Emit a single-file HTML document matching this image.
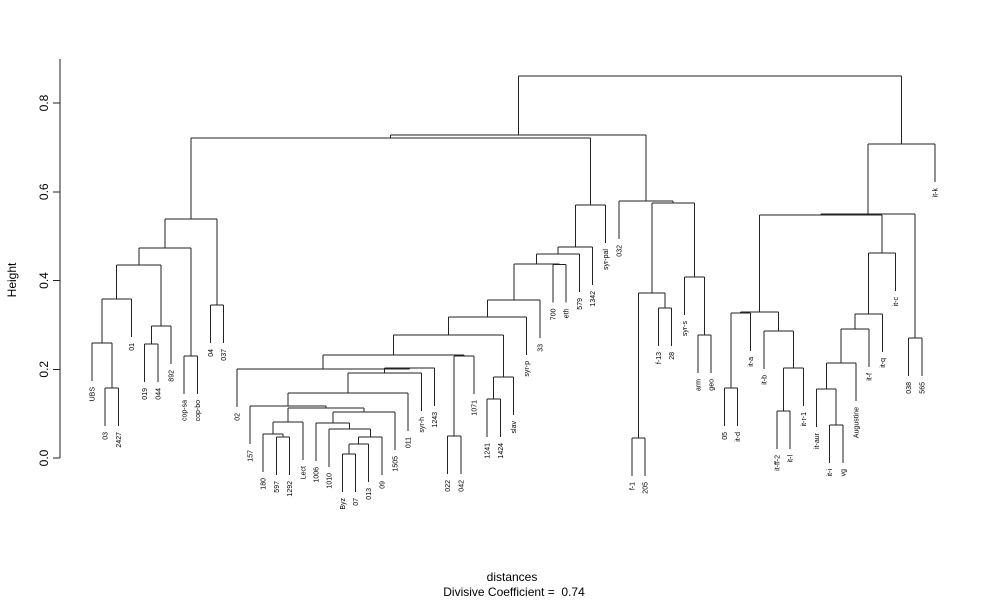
<!DOCTYPE html>
<html><head><meta charset="utf-8"><style>
html,body{margin:0;padding:0;background:#fff;}
svg{display:block;font-family:"Liberation Sans",sans-serif;}
</style></head><body>
<svg id="s" width="1000" height="600" viewBox="0 0 1000 600" xmlns="http://www.w3.org/2000/svg">
<g stroke="#222" stroke-width="1" fill="none" shape-rendering="crispEdges">
<line x1="60" y1="59" x2="60" y2="458"/>
<line x1="53" y1="458" x2="60" y2="458"/>
<line x1="53" y1="369.25" x2="60" y2="369.25"/>
<line x1="53" y1="280.5" x2="60" y2="280.5"/>
<line x1="53" y1="191.75" x2="60" y2="191.75"/>
<line x1="53" y1="103" x2="60" y2="103"/>
</g>
<g font-size="12" fill="#000" text-anchor="middle">
<text transform="translate(44,458) rotate(-90)" dy="4">0.0</text>
<text transform="translate(44,369.25) rotate(-90)" dy="4">0.2</text>
<text transform="translate(44,280.5) rotate(-90)" dy="4">0.4</text>
<text transform="translate(44,191.75) rotate(-90)" dy="4">0.6</text>
<text transform="translate(44,103) rotate(-90)" dy="4">0.8</text>
<text transform="translate(12,280) rotate(-90)" dy="4">Height</text>
<text x="512" y="581">distances</text>
<text x="514" y="596">Divisive Coefficient =&#160; 0.74</text>
</g>
<g id="tree" stroke="#222" stroke-width="1" fill="none" shape-rendering="crispEdges"></g>
<g id="labs" font-size="7" fill="#000" text-anchor="end"></g>
</svg>
<script>
var names=["UBS","03","2427","01","019","044","892","cop-sa","cop-bo","04","037","02","157","180","597","1292","Lect","1006","1010","Byz","07","013","09","1505","011","syr-h","1243","022","042","1071","1241","1424","slav","syr-p","33","700","eth","579","1342","syr-pal","032","f-1","205","f-13","28","syr-s","arm","geo","05","it-d","it-a","it-b","it-ff-2","it-l","it-r-1","it-aur","it-i","vg","Augustine","it-f","it-q","it-c","038","565","it-k"];
var X0=92,DX=(935-92)/64,HANG=38;
var tree=document.getElementById('tree'),labs=document.getElementById('labs');
var NS="http://www.w3.org/2000/svg";
function L(n){var i=names.indexOf(n);return {leaf:true,name:n,x:X0+i*DX};}
function line(x1,y1,x2,y2){var l=document.createElementNS(NS,'line');l.setAttribute('x1',x1);l.setAttribute('y1',y1);l.setAttribute('x2',x2);l.setAttribute('y2',y2);tree.appendChild(l);}
function m(a,b,y){
 if(typeof a=='string')a=L(a); if(typeof b=='string')b=L(b);
 [a,b].forEach(function(c){
  var bot=c.leaf?y+HANG:c.y;
  line(c.x,y,c.x,bot);
  if(c.leaf){var t=document.createElementNS(NS,'text');t.setAttribute('transform','translate('+(c.x+2.5)+','+(bot+6)+') rotate(-90)');t.textContent=c.name;labs.appendChild(t);}
 });
 line(a.x,y,b.x,y);
 return {x:(a.x+b.x)/2,y:y};
}
var a=m("UBS",m("03","2427",388),343);
a=m(a,"01",299);
var b=m(m("019","044",344),"892",326);
var c=m(a,b,265);
c=m(c,m("cop-sa","cop-bo",356),248);
c=m(c,m("04","037",305),219);
var p=m("180",m("597","1292",437),434);
p=m(p,"Lect",422);
var q=m(m(m("Byz","07",454),"013",444),"09",437);
q=m("1010",q,429);
q=m("1006",q,423);
q=m(q,"1505",412);
var r=m(p,q,408);
r=m("157",r,406);
r=m(r,"011",393);
r=m(r,"syr-h",373);
r=m(r,"1243",368);
r=m("02",r,369);
var s=m(m("022","042",436),"1071",356);
r=m(r,s,355);
r=m(r,m(m("1241","1424",399),"slav",377),335);
r=m(r,"syr-p",317);
r=m(r,"33",300);
r=m(r,m("700","eth",264.5),264);
r=m(r,"579",254);
r=m(r,"1342",247);
r=m(r,"syr-pal",205);
var left=m(c,r,138);
var t=m(m("f-1","205",438),m("f-13","28",308),293);
t=m(t,m("syr-s",m("arm","geo",335),277),203);
t=m("032",t,201);
var mid=m(left,t,135);
var u=m(m(m("05","it-d",388),"it-a",313),m("it-b",m(m("it-ff-2","it-l",411),"it-r-1",368),331),312);
var v=m(m(m(m(m("it-aur",m("it-i","vg",425),389),"Augustine",363),"it-f",329),"it-q",314),"it-c",253);
var w=m(m(u,v,215),m("038","565",338),214);
w=m(w,"it-k",144);
m(mid,w,76);
</script>
</body></html>
